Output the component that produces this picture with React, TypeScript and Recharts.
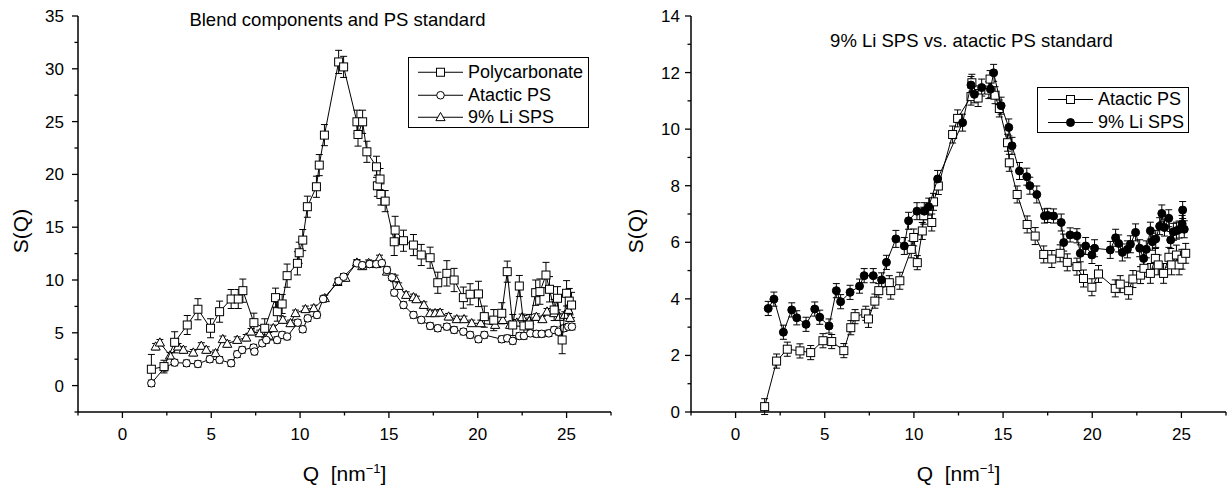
import React from 'react';
import { ScatterChart, Scatter, XAxis, YAxis, ErrorBar, Legend } from 'recharts';

const FONT = "Arial, 'Liberation Sans', Helvetica, sans-serif";

// Q ticks (nm^-1), shared by both panels
const qTicks = [-2.5, 0, 2.5, 5, 7.5, 10, 12.5, 15, 17.5, 20, 22.5, 25, 27.5];
const leftYTicks = [-2.5, 0, 2.5, 5, 7.5, 10, 12.5, 15, 17.5, 20, 22.5, 25, 27.5, 30, 32.5, 35];
const rightYTicks = [0, 1, 2, 3, 4, 5, 6, 7, 8, 9, 10, 11, 12, 13, 14];

const leftTitle = 'Blend components and PS standard';
const rightTitle = '9% Li SPS vs. atactic PS standard';

// [Q, S(Q), error]
const polycarbonate: [number, number, number][] = [
  [1.63, 1.55, 1.4], [2.34, 1.8, 0.6], [2.94, 4.1, 1.0], [3.65, 5.74, 0.9], [4.25, 7.23, 1.0],
  [4.96, 5.43, 0.9], [5.47, 7.0, 1.0], [6.12, 8.2, 0.9], [6.52, 8.2, 0.9], [6.78, 8.99, 1.1],
  [7.4, 5.96, 0.9], [8.01, 5.43, 0.9], [8.62, 8.33, 0.9], [8.72, 7.0, 0.9], [8.99, 7.73, 0.9],
  [9.27, 10.41, 1.1], [9.85, 11.58, 1.1], [9.95, 12.58, 1.0], [10.15, 13.78, 1.0], [10.41, 16.94, 1.0],
  [10.92, 18.83, 1.0], [11.08, 20.88, 1.0], [11.37, 23.72, 1.0], [12.17, 30.65, 1.1], [12.45, 30.18, 1.0],
  [13.2, 24.98, 1.1], [13.26, 23.78, 1.1], [13.52, 24.98, 1.1], [13.76, 22.14, 1.0], [14.3, 20.72, 1.0],
  [14.35, 18.92, 1.0], [14.5, 19.56, 1.0], [14.55, 18.1, 1.0], [14.79, 17.47, 1.0], [15.3, 13.62, 1.3],
  [15.35, 14.73, 1.3], [15.82, 13.72, 1.0], [16.38, 13.31, 1.0], [16.82, 12.37, 1.0], [17.32, 12.11, 1.0],
  [17.75, 9.74, 1.0], [18.26, 10.63, 1.2], [18.67, 10.0, 1.1], [19.19, 8.33, 1.0], [19.57, 8.65, 1.0],
  [20.04, 8.68, 1.2], [20.37, 6.53, 1.0], [20.9, 6.2, 1.0], [21.35, 6.85, 1.0], [21.66, 10.79, 1.0],
  [21.97, 5.74, 1.0], [22.34, 9.43, 1.0], [22.6, 5.65, 1.0], [22.9, 5.74, 1.0], [23.26, 8.8, 1.2],
  [23.5, 8.9, 1.2], [23.84, 10.47, 1.2], [24.04, 9.12, 1.2], [24.3, 7.16, 1.0], [24.49, 8.27, 1.1],
  [24.75, 4.32, 1.3], [25.0, 8.74, 1.2], [25.15, 8.0, 1.2], [25.28, 7.63, 1.2],
];

const atacticLeft: [number, number, number][] = [
  [1.63, 0.22, 0.3], [2.38, 1.7, 0.3], [2.94, 2.18, 0.3], [3.61, 2.12, 0.3], [4.25, 2.05, 0.3],
  [4.92, 2.5, 0.3], [5.47, 2.44, 0.3], [6.12, 2.12, 0.3], [6.46, 2.97, 0.3], [6.74, 3.38, 0.3],
  [7.38, 3.6, 0.3], [7.43, 3.22, 0.3], [7.87, 4.01, 0.3], [8.1, 4.32, 0.3], [8.71, 4.32, 0.3],
  [8.99, 4.8, 0.3], [9.27, 4.64, 0.3], [9.87, 5.96, 0.3], [10.15, 5.33, 0.3], [10.43, 6.37, 0.3],
  [10.95, 6.69, 0.3], [11.3, 8.2, 0.3], [12.17, 9.9, 0.3], [12.45, 10.31, 0.3], [13.2, 11.58, 0.3],
  [13.5, 11.4, 0.3], [13.91, 11.51, 0.3], [14.29, 11.5, 0.3], [14.6, 11.6, 0.3], [14.89, 10.95, 0.3],
  [15.17, 10.25, 0.3], [15.3, 8.8, 0.3], [15.82, 7.63, 0.3], [16.38, 6.69, 0.3], [16.82, 6.22, 0.3],
  [17.32, 5.65, 0.3], [17.75, 5.43, 0.3], [18.26, 5.58, 0.3], [18.67, 5.27, 0.3], [19.19, 5.11, 0.3],
  [19.57, 4.8, 0.3], [20.04, 4.39, 0.3], [20.37, 4.8, 0.3], [21.35, 4.39, 0.3], [21.66, 4.48, 0.3],
  [21.97, 4.23, 0.3], [22.34, 4.7, 0.3], [22.6, 4.7, 0.3], [22.96, 4.95, 0.3], [23.3, 4.9, 0.3],
  [23.6, 4.9, 0.3], [24.0, 4.95, 0.3], [24.3, 5.27, 0.3], [24.55, 5.1, 0.3], [24.85, 5.43, 0.3],
  [25.1, 5.58, 0.3], [25.3, 5.58, 0.3],
];

const liSpsLeft: [number, number, number][] = [
  [1.87, 3.69, 0.3], [2.11, 4.07, 0.3], [2.68, 2.84, 0.3], [3.13, 3.69, 0.3], [3.43, 3.38, 0.3],
  [3.99, 3.12, 0.3], [4.44, 3.76, 0.3], [4.72, 3.38, 0.3], [5.24, 3.06, 0.3], [5.65, 4.39, 0.3],
  [5.9, 3.95, 0.3], [6.46, 4.32, 0.3], [6.97, 4.54, 0.3], [7.24, 5.11, 0.3], [7.73, 4.95, 0.3],
  [8.24, 4.73, 0.3], [8.49, 5.43, 0.3], [9.03, 6.22, 0.3], [9.46, 5.9, 0.3], [9.74, 6.85, 0.3],
  [10.3, 7.23, 0.3], [10.77, 7.32, 0.3], [11.39, 8.27, 0.3], [12.1, 9.8, 0.3], [12.55, 10.2, 0.3],
  [13.2, 11.64, 0.3], [13.5, 11.3, 0.3], [13.86, 11.6, 0.3], [14.29, 11.5, 0.3], [14.47, 12.05, 0.3],
  [14.89, 10.79, 0.3], [15.35, 10.16, 0.3], [15.55, 9.43, 0.3], [15.97, 8.58, 0.3], [16.38, 8.36, 0.3],
  [16.55, 8.17, 0.3], [16.97, 7.63, 0.3], [17.32, 6.85, 0.3], [17.6, 6.85, 0.3], [17.88, 6.9, 0.3],
  [18.36, 6.53, 0.3], [18.82, 6.28, 0.3], [19.23, 6.28, 0.3], [19.66, 5.9, 0.3], [20.17, 5.9, 0.3],
  [20.98, 5.74, 0.3], [21.41, 6.2, 0.3], [21.82, 5.74, 0.3], [22.2, 5.96, 0.3], [22.5, 6.47, 0.3],
  [22.9, 6.1, 0.3], [23.3, 6.5, 0.3], [23.64, 6.28, 0.3], [23.9, 7.0, 0.3], [24.3, 6.85, 0.3],
  [24.6, 6.5, 0.3], [24.9, 6.69, 0.3], [25.1, 7.16, 0.3], [25.2, 6.4, 0.3],
];

const atacticRight: [number, number, number][] = [
  [1.63, 0.19, 0.28], [2.3, 1.8, 0.25], [2.9, 2.22, 0.25], [3.61, 2.16, 0.25], [4.21, 2.1, 0.25],
  [4.9, 2.52, 0.25], [5.39, 2.49, 0.25], [6.07, 2.17, 0.25], [6.46, 2.98, 0.25], [6.7, 3.37, 0.25],
  [7.3, 3.49, 0.25], [7.45, 3.29, 0.3], [7.81, 3.92, 0.25], [8.03, 4.29, 0.25], [8.62, 4.57, 0.25],
  [8.7, 4.29, 0.3], [9.21, 4.64, 0.3], [9.85, 5.75, 0.3], [9.99, 6.17, 0.3], [10.19, 5.28, 0.25],
  [10.47, 6.4, 0.3], [10.55, 6.94, 0.3], [11.0, 6.7, 0.3], [11.1, 7.43, 0.3], [11.37, 7.99, 0.3],
  [12.17, 9.81, 0.3], [12.45, 10.38, 0.3], [13.2, 11.15, 0.3], [13.25, 11.64, 0.3], [13.6, 11.1, 0.3],
  [14.2, 11.38, 0.3], [14.27, 11.77, 0.3], [14.55, 11.2, 0.3], [14.79, 10.73, 0.3], [15.25, 9.52, 0.3],
  [15.35, 8.81, 0.3], [15.79, 7.69, 0.3], [16.35, 6.63, 0.3], [16.8, 6.22, 0.3], [17.28, 5.57, 0.3],
  [17.73, 5.41, 0.3], [18.2, 5.61, 0.3], [18.6, 5.29, 0.3], [19.14, 5.14, 0.3], [19.51, 4.72, 0.3],
  [19.98, 4.41, 0.3], [20.35, 4.88, 0.3], [21.29, 4.37, 0.3], [21.57, 4.52, 0.3], [22.04, 4.29, 0.3],
  [22.28, 4.7, 0.3], [22.71, 4.84, 0.3], [22.9, 5.08, 0.3], [23.26, 4.9, 0.35], [23.54, 5.43, 0.35],
  [23.7, 5.2, 0.35], [24.0, 4.9, 0.35], [24.3, 5.47, 0.35], [24.45, 5.2, 0.35], [24.72, 5.55, 0.35],
  [24.87, 5.2, 0.35], [25.03, 5.4, 0.35], [25.24, 5.61, 0.35],
];

const liSpsRight: [number, number, number][] = [
  [1.83, 3.66, 0.25], [2.15, 3.99, 0.25], [2.68, 2.82, 0.25], [3.15, 3.61, 0.25], [3.43, 3.33, 0.25],
  [3.95, 3.1, 0.25], [4.44, 3.64, 0.25], [4.72, 3.35, 0.25], [5.24, 3.04, 0.25], [5.65, 4.29, 0.25],
  [5.89, 3.9, 0.25], [6.42, 4.23, 0.25], [6.95, 4.45, 0.25], [7.21, 4.82, 0.25], [7.72, 4.82, 0.25],
  [8.19, 4.67, 0.25], [8.46, 5.29, 0.25], [8.99, 6.12, 0.3], [9.46, 5.87, 0.3], [9.7, 6.76, 0.3],
  [10.17, 7.1, 0.3], [10.58, 7.1, 0.3], [10.83, 7.26, 0.3], [11.33, 8.24, 0.3], [12.73, 10.23, 0.3],
  [13.2, 11.56, 0.3], [13.39, 11.23, 0.3], [13.8, 11.47, 0.3], [14.29, 11.41, 0.3], [14.47, 11.99, 0.3],
  [14.89, 10.83, 0.3], [15.32, 10.06, 0.3], [15.5, 9.41, 0.3], [15.92, 8.52, 0.3], [16.33, 8.32, 0.3],
  [16.5, 8.0, 0.3], [16.89, 7.69, 0.3], [17.32, 6.93, 0.25], [17.5, 6.95, 0.25], [17.83, 6.93, 0.25],
  [18.26, 6.7, 0.3], [18.4, 5.99, 0.3], [18.76, 6.26, 0.25], [19.14, 6.23, 0.25], [19.33, 5.61, 0.3],
  [19.63, 5.87, 0.3], [19.98, 5.55, 0.3], [20.13, 5.79, 0.3], [21.01, 5.73, 0.3], [21.31, 6.16, 0.3],
  [21.48, 5.96, 0.3], [21.69, 5.64, 0.3], [21.97, 5.75, 0.3], [22.14, 5.93, 0.3], [22.43, 6.35, 0.3],
  [22.66, 5.79, 0.3], [22.88, 5.43, 0.3], [23.03, 5.75, 0.3], [23.26, 6.41, 0.3], [23.37, 6.02, 0.3],
  [23.56, 6.12, 0.3], [23.78, 6.57, 0.3], [23.9, 7.02, 0.3], [24.05, 6.52, 0.3], [24.29, 6.85, 0.3],
  [24.4, 6.08, 0.3], [24.55, 6.37, 0.3], [24.72, 6.41, 0.3], [24.87, 6.45, 0.3], [25.04, 6.65, 0.3],
  [25.07, 7.14, 0.3], [25.16, 6.46, 0.3],
];

const toRows = (arr: [number, number, number][]) => arr.map(([q, s, e]) => ({ q, s, e }));

const isMult = (v: number, m: number) => Math.abs(v / m - Math.round(v / m)) < 1e-6;

const XTick = (props: any) => {
  const { x, y, payload } = props;
  const v = payload.value;
  const major = isMult(v, 5);
  return (
    <g>
      <line x1={x} x2={x} y1={y} y2={y + (major ? 6 : 3.5)} stroke="#000" strokeWidth={1.3} />
      {major && (
        <text x={x} y={y + 28} textAnchor="middle" fontSize={17} fontFamily={FONT} fill="#000">
          {v}
        </text>
      )}
    </g>
  );
};

const makeYTick = (majorStep: number, gap: number) => (props: any) => {
  const { x, y, payload } = props;
  const v = payload.value;
  const major = isMult(v, majorStep);
  return (
    <g>
      <line x1={x} x2={x - (major ? 6 : 3.5)} y1={y} y2={y} stroke="#000" strokeWidth={1.3} />
      {major && (
        <text x={x - gap} y={y + 6} textAnchor="end" fontSize={17} fontFamily={FONT} fill="#000">
          {v}
        </text>
      )}
    </g>
  );
};
const LeftYTick = makeYTick(5, 14);
const RightYTick = makeYTick(2, 11);

const Square = (p: any) => (
  <rect x={p.cx - 4} y={p.cy - 4} width={8} height={8} fill="#fff" stroke="#000" strokeWidth={1} />
);
const OpenCircle = (p: any) => <circle cx={p.cx} cy={p.cy} r={3.8} fill="#fff" stroke="#000" strokeWidth={1} />;
const Triangle = (p: any) => (
  <polygon
    points={`${p.cx},${p.cy - 4.8} ${p.cx - 4.6},${p.cy + 3.4} ${p.cx + 4.6},${p.cy + 3.4}`}
    fill="#fff"
    stroke="#000"
    strokeWidth={1}
  />
);
const FilledCircle = (p: any) => <circle cx={p.cx} cy={p.cy} r={4} fill="#000" stroke="#000" strokeWidth={1} />;

const LegendBox = ({ items, width, height, padTop, padLeft, rowH }: any) => (
  <div
    style={{
      boxSizing: 'border-box',
      width,
      height,
      border: '1px solid #000',
      background: '#fff',
      paddingTop: padTop,
      paddingLeft: padLeft,
    }}
  >
    {items.map((it: any) => (
      <div key={it.label} style={{ display: 'flex', alignItems: 'center', height: rowH }}>
        <svg width={46} height={rowH} style={{ display: 'block' }}>
          <line x1={0} x2={45} y1={rowH / 2} y2={rowH / 2} stroke="#000" strokeWidth={1} />
          {it.shape({ cx: 22.5, cy: rowH / 2 })}
        </svg>
        <span style={{ fontFamily: FONT, fontSize: 18, marginLeft: 4, lineHeight: `${rowH}px`, color: '#000', whiteSpace: 'nowrap' }}>
          {it.label}
        </span>
      </div>
    ))}
  </div>
);

const axisLineStyle = { stroke: '#000', strokeWidth: 1.5 };
const lineStyle = { stroke: '#000', strokeWidth: 1 };

const series = (name: string, rows: any[], shape: any) => (
  <Scatter
    key={name}
    name={name}
    data={rows}
    shape={shape}
    line={lineStyle}
    lineJointType="linear"
    fill="#fff"
    stroke="#000"
    isAnimationActive={false}
  >
    <ErrorBar dataKey="e" direction="y" width={3.5} stroke="#000" strokeWidth={1} isAnimationActive={false} />
  </Scatter>
);

export default function App() {
  return (
    <div style={{ position: 'absolute', left: 0, top: 0, width: 1232, height: 488, background: '#fff' }}>
      <div style={{ position: 'absolute', left: 0, top: 0, width: 616, height: 488 }}>
        <ScatterChart width={616} height={488} margin={{ top: 16, right: 5, bottom: 0, left: 0 }}>
          <XAxis
            type="number"
            dataKey="q"
            domain={[-2.5, 27.5]}
            ticks={qTicks}
            interval={0}
            tickSize={0}
            tickMargin={0}
            tick={XTick}
            tickLine={false}
            axisLine={axisLineStyle}
            height={76}
            allowDataOverflow
          />
          <YAxis
            type="number"
            dataKey="s"
            domain={[-2.5, 35]}
            ticks={leftYTicks}
            interval={0}
            tickSize={0}
            tickMargin={0}
            tick={LeftYTick}
            tickLine={false}
            axisLine={axisLineStyle}
            width={78}
            allowDataOverflow
          />
          {series('9% Li SPS', toRows(liSpsLeft), Triangle)}
          {series('Atactic PS', toRows(atacticLeft), OpenCircle)}
          {series('Polycarbonate', toRows(polycarbonate), Square)}
          <Legend
            layout="vertical"
            align="center"
            verticalAlign="middle"
            wrapperStyle={{ left: 408, top: 57, width: 181, height: 71 }}
            content={() => (
              <LegendBox
                width={181}
                height={71}
                padTop={3}
                padLeft={9}
                rowH={22.5}
                items={[
                  { label: 'Polycarbonate', shape: Square },
                  { label: 'Atactic PS', shape: OpenCircle },
                  { label: '9% Li SPS', shape: Triangle },
                ]}
              />
            )}
          />
        </ScatterChart>
      </div>
      <div style={{ position: 'absolute', left: 616, top: 0, width: 616, height: 488 }}>
        <ScatterChart width={616} height={488} margin={{ top: 16, right: 6, bottom: 0, left: 0 }}>
          <XAxis
            type="number"
            dataKey="q"
            domain={[-2.5, 27.5]}
            ticks={qTicks}
            interval={0}
            tickSize={0}
            tickMargin={0}
            tick={XTick}
            tickLine={false}
            axisLine={axisLineStyle}
            height={76}
            allowDataOverflow
          />
          <YAxis
            type="number"
            dataKey="s"
            domain={[0, 14]}
            ticks={rightYTicks}
            interval={0}
            tickSize={0}
            tickMargin={0}
            tick={RightYTick}
            tickLine={false}
            axisLine={axisLineStyle}
            width={75}
            allowDataOverflow
          />
          {series('Atactic PS', toRows(atacticRight), Square)}
          {series('9% Li SPS', toRows(liSpsRight), FilledCircle)}
          <Legend
            layout="vertical"
            align="center"
            verticalAlign="middle"
            wrapperStyle={{ left: 421, top: 87, width: 152, height: 46 }}
            content={() => (
              <LegendBox
                width={152}
                height={46}
                padTop={0}
                padLeft={10}
                rowH={23}
                items={[
                  { label: 'Atactic PS', shape: Square },
                  { label: '9% Li SPS', shape: FilledCircle },
                ]}
              />
            )}
          />
        </ScatterChart>
      </div>
      <svg
        width={1232}
        height={488}
        style={{ position: 'absolute', left: 0, top: 0, pointerEvents: 'none' }}
      >
        <g fontFamily={FONT} fill="#000">
          <text x={337.5} y={26} fontSize={18.5} textAnchor="middle">{leftTitle}</text>
          <text x={971.5} y={47} fontSize={18.5} textAnchor="middle">{rightTitle}</text>
          <text x={20.7} y={231} fontSize={21} textAnchor="middle" dominantBaseline="central" transform="rotate(-90 20.7 231)">S(Q)</text>
          <text x={635} y={231} fontSize={21} textAnchor="middle" dominantBaseline="central" transform="rotate(-90 635 231)">S(Q)</text>
          <text x={344.5} y={481} fontSize={21} textAnchor="middle">
            {'Q\u00A0\u00A0[nm'}
            <tspan dy={-8} fontSize={13}>{'\u22121'}</tspan>
            <tspan dy={8} fontSize={21}>]</tspan>
          </text>
          <text x={958.5} y={481} fontSize={21} textAnchor="middle">
            {'Q\u00A0\u00A0[nm'}
            <tspan dy={-8} fontSize={13}>{'\u22121'}</tspan>
            <tspan dy={8} fontSize={21}>]</tspan>
          </text>
        </g>
      </svg>
    </div>
  );
}
